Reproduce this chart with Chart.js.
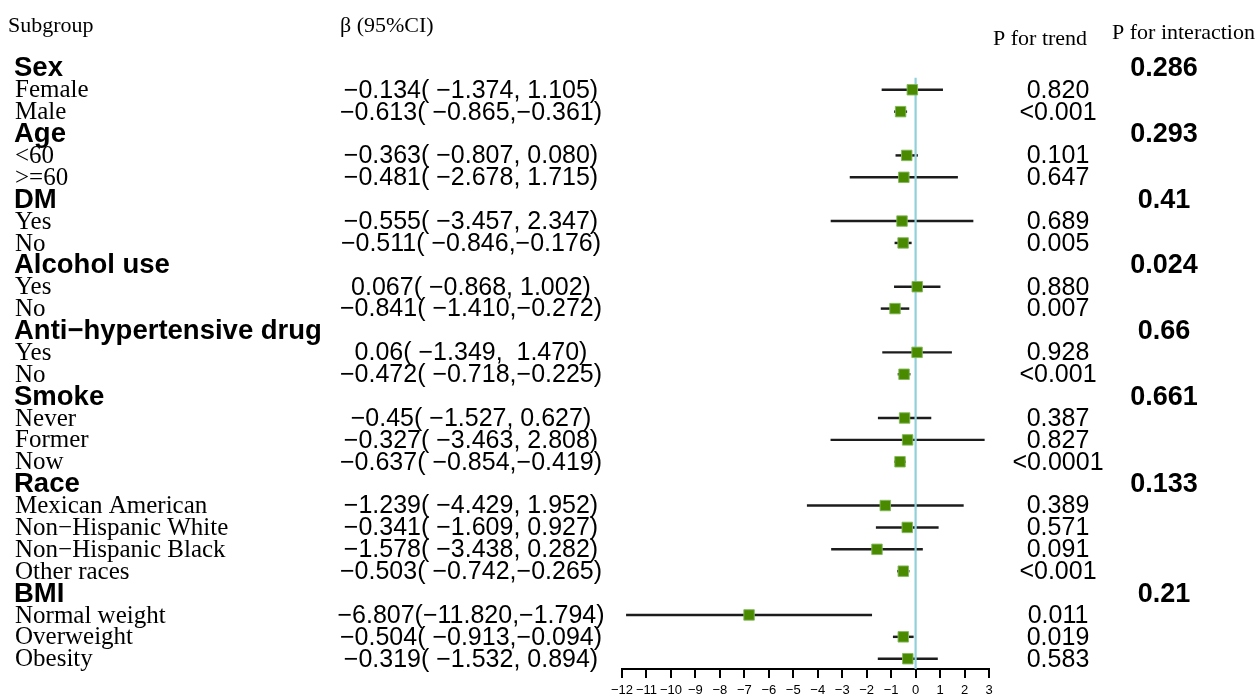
<!DOCTYPE html>
<html>
<head>
<meta charset="utf-8">
<script src="https://cdn.jsdelivr.net/npm/chart.js@4.4.0/dist/chart.umd.min.js"></script>
<style>
  html, body { margin: 0; padding: 0; background: #fff; }
  #wrap { position: relative; width: 1257px; height: 699px; }
</style>
</head>
<body>
<div id="wrap"><canvas id="forest" width="1257" height="699"></canvas></div>
<script>
// rows from top to bottom; group headers have no estimate
const rowLabels = ['Sex', 'Female', 'Male',
  'Age', '<60', '>=60',
  'DM', 'Yes', 'No',
  'Alcohol use', 'Yes', 'No',
  'Anti\u2212hypertensive drug', 'Yes', 'No',
  'Smoke', 'Never', 'Former', 'Now',
  'Race', 'Mexican American', 'Non\u2212Hispanic White', 'Non\u2212Hispanic Black', 'Other races',
  'BMI', 'Normal weight', 'Overweight', 'Obesity'];
const isHeader = [1,0,0, 1,0,0, 1,0,0, 1,0,0, 1,0,0, 1,0,0,0, 1,0,0,0,0, 1,0,0,0];

const beta  = [null, -0.134, -0.613, null, -0.363, -0.481, null, -0.555, -0.511, null, 0.067, -0.841,
  null, 0.06, -0.472, null, -0.45, -0.327, -0.637, null, -1.239, -0.341, -1.578, -0.503, null, -6.807, -0.504, -0.319];
const lower = [null, -1.374, -0.865, null, -0.807, -2.678, null, -3.457, -0.846, null, -0.868, -1.410,
  null, -1.349, -0.718, null, -1.527, -3.463, -0.854, null, -4.429, -1.609, -3.438, -0.742, null, -11.820, -0.913, -1.532];
const upper = [null, 1.105, -0.361, null, 0.080, 1.715, null, 2.347, -0.176, null, 1.002, -0.272,
  null, 1.470, -0.225, null, 0.627, 2.808, -0.419, null, 1.952, 0.927, 0.282, -0.265, null, -1.794, -0.094, 0.894];

const betaText = ['', '\u22120.134( \u22121.374, 1.105)', '\u22120.613( \u22120.865,\u22120.361)',
  '', '\u22120.363( \u22120.807, 0.080)', '\u22120.481( \u22122.678, 1.715)',
  '', '\u22120.555( \u22123.457, 2.347)', '\u22120.511( \u22120.846,\u22120.176)',
  '', '0.067( \u22120.868, 1.002)', '\u22120.841( \u22121.410,\u22120.272)',
  '', '0.06( \u22121.349,  1.470)', '\u22120.472( \u22120.718,\u22120.225)',
  '', '\u22120.45( \u22121.527, 0.627)', '\u22120.327( \u22123.463, 2.808)', '\u22120.637( \u22120.854,\u22120.419)',
  '', '\u22121.239( \u22124.429, 1.952)', '\u22120.341( \u22121.609, 0.927)', '\u22121.578( \u22123.438, 0.282)', '\u22120.503( \u22120.742,\u22120.265)',
  '', '\u22126.807(\u221211.820,\u22121.794)', '\u22120.504( \u22120.913,\u22120.094)', '\u22120.319( \u22121.532, 0.894)'];
const pTrend = ['', '0.820', '<0.001', '', '0.101', '0.647', '', '0.689', '0.005', '', '0.880', '0.007',
  '', '0.928', '<0.001', '', '0.387', '0.827', '<0.0001', '', '0.389', '0.571', '0.091', '<0.001',
  '', '0.011', '0.019', '0.583'];
const pInteraction = ['0.286', '', '', '0.293', '', '', '0.41', '', '', '0.024', '', '',
  '0.66', '', '', '0.661', '', '', '', '0.133', '', '', '', '', '0.21', '', '', ''];

const xTicks = [-12, 3];
const refValue = 0;

const SERIF = '"Liberation Serif", "Times New Roman", serif';
const SANS = '"Liberation Sans", Arial, Helvetica, sans-serif';
const yMax = 27.47;

var ciData = [], pointData = [];
for (var i = 0; i < rowLabels.length; i++) {
  if (beta[i] === null) continue;
  ciData.push({ x: [lower[i], upper[i]], y: i });
  pointData.push({ x: beta[i], y: i });
}

const tablePlugin = {
  id: 'forestTable',
  afterDraw: function(chart) {
    const ctx = chart.ctx;
    const y = chart.scales.y;
    ctx.save();
    ctx.fillStyle = '#000';
    ctx.textBaseline = 'middle';

    ctx.font = '22px ' + SERIF;
    ctx.textAlign = 'left';
    ctx.fillText('Subgroup', 8, 26);
    ctx.fillText('\u03b2 (95%CI)', 340, 26);
    ctx.fillText('P for trend', 993, 39);
    ctx.fillText('P for interaction', 1112, 33);

    for (var i = 0; i < rowLabels.length; i++) {
      const py = y.getPixelForValue(i);
      ctx.textAlign = 'left';
      if (isHeader[i]) {
        ctx.font = 'bold 27.5px ' + SANS;
        ctx.fillText(rowLabels[i], 14, py + 1);
      } else {
        ctx.font = '25px ' + SERIF;
        ctx.fillText(rowLabels[i], 15, py + 1);
      }
      ctx.textAlign = 'center';
      if (betaText[i]) {
        ctx.font = '25px ' + SANS;
        ctx.fillText(betaText[i], 471, py + 1);
      }
      if (pTrend[i]) {
        ctx.font = '25px ' + SANS;
        ctx.fillText(pTrend[i], 1058, py + 1);
      }
      if (pInteraction[i]) {
        ctx.font = 'bold 27px ' + SANS;
        ctx.fillText(pInteraction[i], 1164, py + 1);
      }
    }
    ctx.restore();
  }
};

const ctx = document.getElementById('forest').getContext('2d');
const forestChart = new Chart(ctx, {
  type: 'scatter',
  data: {
    datasets: [
      {
        type: 'scatter',
        label: 'beta',
        data: pointData,
        pointStyle: 'rect',
        pointRadius: 7.4,
        pointHoverRadius: 7.4,
        backgroundColor: '#4a8a00',
        borderColor: 'rgba(130,185,90,0.9)',
        borderWidth: 1,
        order: 1
      },
      {
        type: 'line',
        label: 'reference',
        data: [{ x: refValue, y: 0.45 }, { x: refValue, y: yMax }],
        borderColor: '#8fd0d9',
        borderWidth: 2.2,
        pointRadius: 0,
        fill: false,
        order: 2
      },
      {
        type: 'bar',
        label: '95% CI',
        indexAxis: 'y',
        data: ciData,
        backgroundColor: '#1c1c1c',
        borderWidth: 0,
        barThickness: 1.8,
        order: 3
      }
    ]
  },
  options: {
    responsive: false,
    animation: false,
    events: [],
    layout: { padding: { left: 622, right: 268, top: 46, bottom: 0 } },
    plugins: { legend: { display: false }, tooltip: { enabled: false } },
    scales: {
      x: {
        type: 'linear',
        min: xTicks[0],
        max: xTicks[1],
        afterFit: function(scale) { scale.height = 30; },
        ticks: {
          stepSize: 1,
          autoSkip: false,
          maxRotation: 0,
          padding: 5,
          color: '#000',
          font: { family: SANS, size: 13 },
          callback: function(v) { return String(v).replace('-', '\u2212'); }
        },
        grid: {
          display: true,
          drawOnChartArea: false,
          drawTicks: true,
          tickLength: 9,
          color: '#000',
          lineWidth: 2
        },
        border: { display: true, color: '#000', width: 2 }
      },
      y: {
        type: 'linear',
        reverse: true,
        min: -1,
        max: yMax,
        offset: false,
        display: false,
        grid: { offset: false }
      }
    }
  },
  plugins: [tablePlugin]
});
</script>
</body>
</html>
